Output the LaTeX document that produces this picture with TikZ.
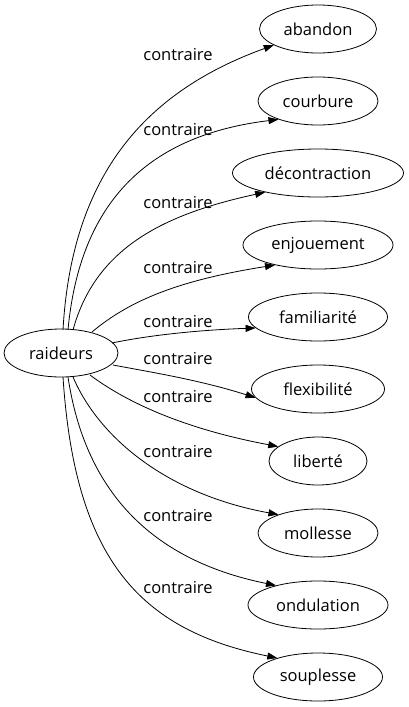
\documentclass[tikz,border=0pt]{standalone}
\usepackage{fontspec}
\setmainfont{Open Sans}
\usetikzlibrary{shapes.geometric,arrows.meta}
\begin{document}
\begin{tikzpicture}[x=1pt,y=-1pt,
  nd/.style={draw,ellipse,inner sep=0pt,minimum height=48pt,font=\fontsize{16.5}{18}\selectfont,line width=0.8pt},
  lbl/.style={font=\fontsize{16.5}{18}\selectfont,inner sep=0pt},
  edg/.style={line width=0.8pt,-{Triangle[length=10pt,width=7pt]}}]
\useasboundingbox (0,0) rectangle (409,707);
\node[nd,minimum width=114pt] (r) at (61,353) {raideurs};
\node[nd,minimum width=117pt] (n1) at (318,29) {abandon};
\node[nd,minimum width=120pt] (n2) at (318,101) {courbure};
\node[nd,minimum width=171pt] (n3) at (318,173) {décontraction};
\node[nd,minimum width=150pt] (n4) at (318,245) {enjouement};
\node[nd,minimum width=139pt] (n5) at (318,317) {familiarité};
\node[nd,minimum width=133pt] (n6) at (318,389) {flexibilité};
\node[nd,minimum width=98pt] (n7) at (318,461) {liberté};
\node[nd,minimum width=120pt] (n8) at (318,533) {mollesse};
\node[nd,minimum width=140pt] (n9) at (318,605) {ondulation};
\node[nd,minimum width=129pt] (n10) at (318,677) {souplesse};
\coordinate (s1) at (63,330);
\coordinate (s2) at (68,330);
\coordinate (s3) at (73,330);
\coordinate (s4) at (92,332);
\coordinate (s5) at (112,343);
\coordinate (s6) at (113,365);
\coordinate (s7) at (90,375);
\coordinate (s8) at (73,377);
\coordinate (s9) at (68,377);
\coordinate (s10) at (63,377);
\draw[edg] (s1) .. controls (72,170) and (150,90) .. (n1.200);
\draw[edg] (s2) .. controls (80,200) and (150,135) .. (n2.205);
\draw[edg] (s3) .. controls (95,250) and (160,215) .. (n3.200);
\draw[edg] (s4) .. controls (130,300) and (180,280) .. (n4.205);
\draw[edg] (s5) .. controls (150,335) and (200,330) .. (n5.190);
\draw[edg] (s6) .. controls (150,372) and (200,380) .. (n6.188);
\draw[edg] (s7) .. controls (130,405) and (190,430) .. (n7.160);
\draw[edg] (s8) .. controls (100,440) and (170,495) .. (n8.155);
\draw[edg] (s9) .. controls (85,490) and (150,560) .. (n9.155);
\draw[edg] (s10) .. controls (75,560) and (140,630) .. (n10.155);
\node[lbl] (l1) at (178,55) {contraire};
\node[lbl] (l2) at (178,130) {contraire};
\node[lbl] (l3) at (178,203) {contraire};
\node[lbl] (l4) at (178,268) {contraire};
\node[lbl] (l5) at (178,322) {contraire};
\node[lbl] (l6) at (178,359) {contraire};
\node[lbl] (l7) at (178,397) {contraire};
\node[lbl] (l8) at (178,452) {contraire};
\node[lbl] (l9) at (178,516) {contraire};
\node[lbl] (l10) at (178,588) {contraire};
\end{tikzpicture}
\end{document}
